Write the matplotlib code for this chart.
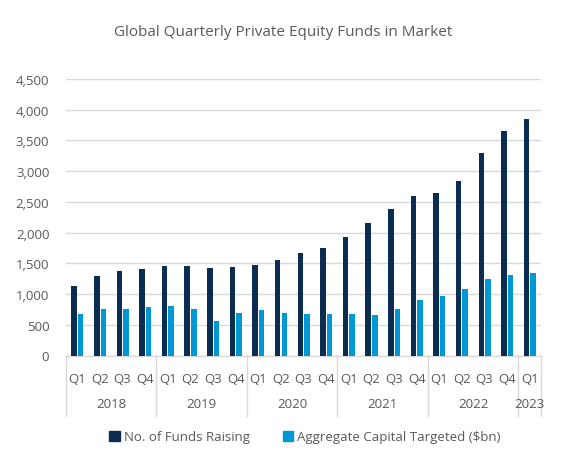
import matplotlib
matplotlib.use("Agg")
import matplotlib.pyplot as plt
from matplotlib.patches import Patch
from matplotlib.lines import Line2D
import numpy as np

quarters = ["Q1", "Q2", "Q3", "Q4"] * 5 + ["Q1"]
years = ["2018", "2019", "2020", "2021", "2022", "2023"]
year_sizes = [4, 4, 4, 4, 4, 1]
funds_raising = [1124, 1287, 1378, 1411, 1455, 1455, 1422, 1438, 1471, 1552, 1661,
                 1743, 1927, 2155, 2383, 2590, 2644, 2844, 3296, 3654, 3849]
capital_targeted = [673, 754, 749, 782, 798, 754, 554, 694, 738, 689, 673,
                    673, 673, 657, 754, 901, 961, 1080, 1238, 1313, 1341]
series_names = ["No. of Funds Raising", "Aggregate Capital Targeted ($bn)"]
y_ticks = [0, 500, 1000, 1500, 2000, 2500, 3000, 3500, 4000, 4500]

DARK = "#0B2D51"
LIGHT = "#0097D7"
TXT = "#595959"
GRID = "#D9D9D9"

plt.rcParams['font.family'] = ['Open Sans', 'DejaVu Sans']

fig = plt.figure(figsize=(5.62, 4.64), dpi=100)
ax = fig.add_axes([66/562, 1-356.5/464, (541-66)/562, (356.5-80)/464])

x = np.arange(len(quarters))
w = 0.245
ax.bar(x - 0.14, funds_raising, width=w, color=DARK, zorder=3)
ax.bar(x + 0.15, capital_targeted, width=w, color=LIGHT, zorder=3)

ax.set_xlim(-0.5, len(quarters) - 0.5)
ax.set_ylim(0, 4500)
ax.set_yticks(y_ticks)
ax.set_yticklabels([f"{v:,}" for v in y_ticks])
ax.yaxis.grid(True, color=GRID, linewidth=1.0, zorder=0)
ax.set_axisbelow(True)
for s in ["top", "right", "left"]:
    ax.spines[s].set_visible(False)
ax.spines["bottom"].set_color(GRID)
ax.spines["bottom"].set_linewidth(1.0)
ax.tick_params(axis="y", length=0, pad=12, labelsize=9.5, labelcolor=TXT)
ax.tick_params(axis="x", length=0, pad=12, labelsize=9.5, labelcolor=TXT)
ax.set_xticks(x)
ax.set_xticklabels(quarters)

# year level
trans = ax.get_xaxis_transform()
start = 0
bounds = [-0.5]
for yr, n in zip(years, year_sizes):
    center = start + (n - 1) / 2
    ax.text(center, -0.175, yr, transform=trans, ha="center", va="center",
            fontsize=9.5, color=TXT)
    start += n
    bounds.append(start - 0.5)
for b in bounds:
    ax.add_line(Line2D([b, b], [0, -0.22], transform=trans, color=GRID,
                       linewidth=1.0, clip_on=False))

fig.text(283/562, 1-33/464, "Global Quarterly Private Equity Funds in Market",
         ha="center", va="center", fontsize=11, color=TXT)

handles = [Patch(color=DARK, label=series_names[0]),
           Patch(color=LIGHT, label=series_names[1])]
fig.legend(handles=handles, loc="center", bbox_to_anchor=(305/562, 1-438/464),
           ncol=2, frameon=False, fontsize=9.5, labelcolor=TXT,
           handlelength=0.8, handleheight=0.8, handletextpad=0.3, columnspacing=2.5)

fig.savefig("out.png", dpi=100, facecolor="white")
